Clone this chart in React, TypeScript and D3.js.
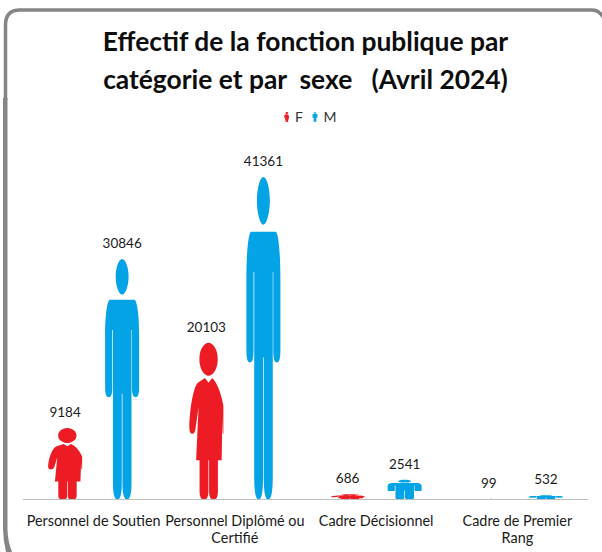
import * as d3 from "d3"

const categories = ["Personnel de Soutien", "Personnel Diplômé ou Certifié", "Cadre Décisionnel", "Cadre de Premier Rang"]
const categoryLines = [["Personnel de Soutien"], ["Personnel Diplômé ou", "Certifié"], ["Cadre Décisionnel"], ["Cadre de Premier", "Rang"]]
const sexes = ["F", "M"]
const femaleValues = [9184, 20103, 686, 99]
const maleValues = [30846, 41361, 2541, 532]
const titleLines = ["Effectif de la fonction publique par", "catégorie et par  sexe   (Avril 2024)"]

const FONT = "Lato, 'Open Sans', sans-serif"
const colors: Record<string, string> = { F: "#ed1c24", M: "#03a3e6" }

// pictograms drawn in a 100x100 box, stretched to the bar afterwards
const glyphs: Record<string, string> = {
  F:
    "M56.5 0C69 0 83.5 4 83.5 10.5C83.5 17 69 21 56.5 21C44 21 29.5 17 29.5 10.5C29.5 4 44 0 56.5 0Z" +
    "M46 22.5L56.5 25.5L67 22.5C80 25 92 31 100 40L100 58L98 58L97 48L95 75L20 75L27 41L18 55Q16 58 9 58Q0 58 0 54C1 42 12 28 25 25.5Z" +
    "M30 75L56 75L56 95Q56 100 43 100Q30 100 30 95Z" +
    "M58 75L84 75L84 95Q84 100 71 100Q58 100 58 95Z",
  M:
    "M50 0C60 0 69 3.5 69 7.4C69 11 60 14.8 50 14.8C40 14.8 31 11 31 7.4C31 3.5 40 0 50 0Z" +
    "M13 17L87 17C95 18 100 24 100 32L100 54Q100 57.5 89.5 57.5Q79 57.5 79 54L79 29.5L77.5 29.5L77.5 93Q77.5 100 64 100Q51 100 51 93L51 56L49 56L49 93Q49 100 36 100Q23 100 23 93L23 29.5L21 29.5L21 54Q21 57.5 10.5 57.5Q0 57.5 0 54L0 32C0 24 5 18 13 17Z",
}

const baseline = 499.5
const x0 = d3.scaleBand().domain(categories).range([23, 588])
const x1 = d3.scaleBand().domain(sexes).range([0, x0.bandwidth()]).paddingInner(0.4035).paddingOuter(0.44)
const y = d3.scaleLinear().domain([0, 45000]).range([baseline, 148.6])
const legendX = d3.scaleOrdinal<string, number>().domain(sexes).range([284, 312.5])

const seriesValues: Record<string, number[]> = { F: femaleValues, M: maleValues }

export default function App() {
  return (
    <svg width={602} height={552} style={{ position: "absolute", left: 0, top: 0, background: "#fff" }} fontFamily={FONT}>
      {/* picture frame, cropped at the right and bottom */}
      <path d="M5.5 100V25Q5.5 10 20 10H592Q599 10 603 17" fill="none" stroke="#858585" strokeWidth={3.5} />
      <path d="M3 98L7.5 98L7.5 530Q8 542 12 552L6 552Q3 540 3 528Z" fill="#858585" />

      {titleLines.map((t, i) => (
        <text key={i} x={305.5} y={51 + i * 38} textAnchor="middle" fontSize={26.4} fontWeight={700} fill="#0d0d0d" xmlSpace="preserve">
          {t}
        </text>
      ))}

      {/* legend */}
      {sexes.map((s) => (
        <g key={s}>
          <path d={glyphs[s]} fill={colors[s]} transform={`translate(${legendX(s)},112) scale(0.05,0.1)`} />
          <text x={legendX(s) + 11} y={121.5} fontSize={14} fill="#333">
            {s}
          </text>
        </g>
      ))}

      {categories.map((c, ci) => (
        <g key={c} transform={`translate(${x0(c)},0)`}>
          {sexes.map((s) => {
            const v = seriesValues[s][ci]
            const top = y(v)
            const xs = x1(s) as number
            const w = x1.bandwidth()
            return (
              <g key={s}>
                <path d={glyphs[s]} fill={colors[s]} transform={`translate(${xs},${top}) scale(${w / 100},${(baseline - top) / 100})`} />
                <text x={xs + w / 2} y={top - 11} textAnchor="middle" fontSize={13.5} fill="#1a1a1a">
                  {v}
                </text>
              </g>
            )
          })}
          {categoryLines[ci].map((l, i) => (
            <text key={i} x={x0.bandwidth() / 2} y={526 + i * 17} textAnchor="middle" fontSize={14.4} fill="#1a1a1a">
              {l}
            </text>
          ))}
        </g>
      ))}

      <line x1={23} x2={588} y1={baseline} y2={baseline} stroke="#bfbfbf" strokeWidth={1.2} />
    </svg>
  )
}
